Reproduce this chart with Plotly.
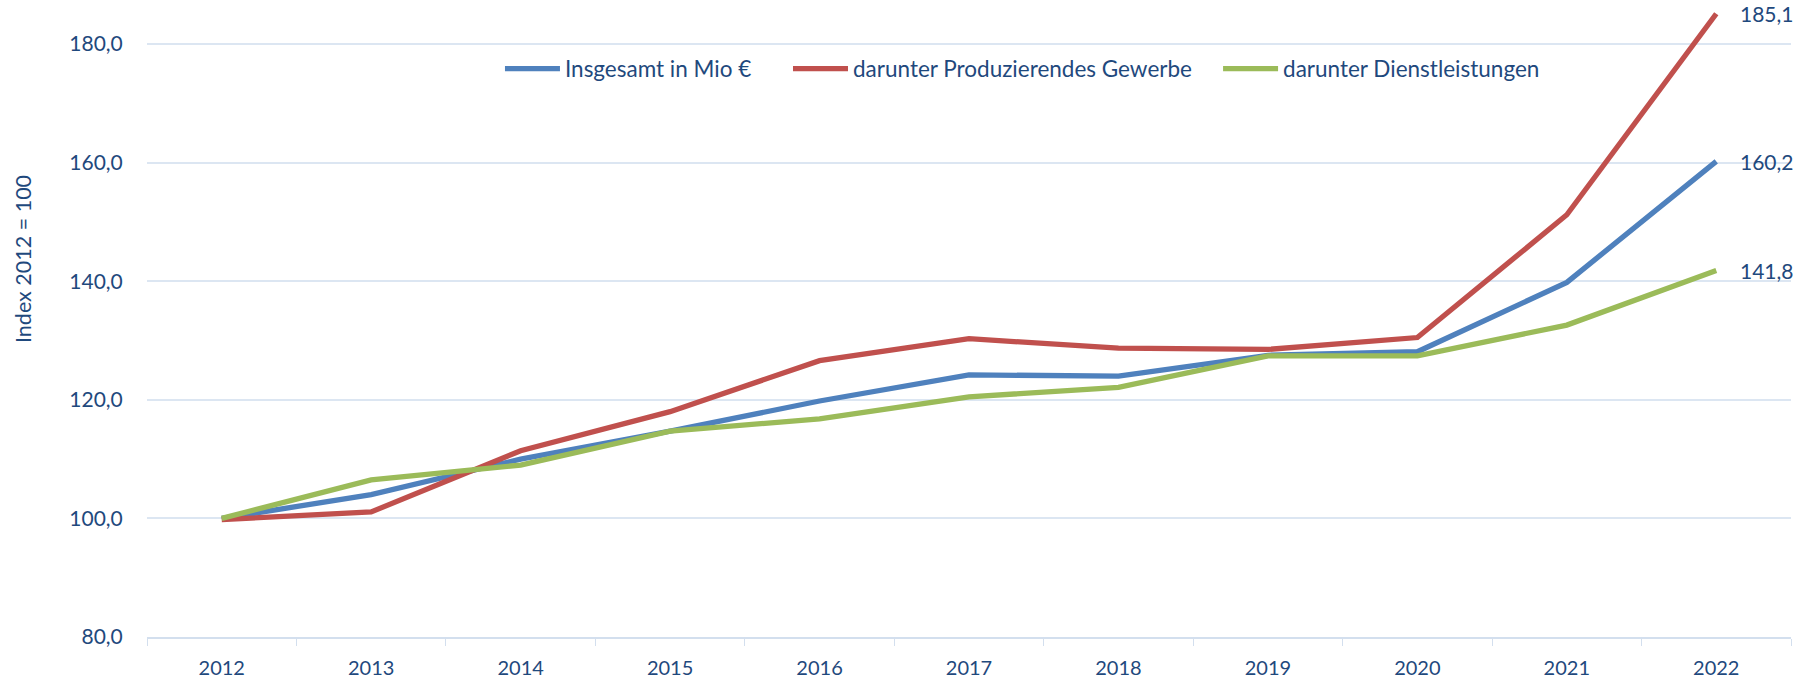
import plotly.graph_objects as go

years = ["2012", "2013", "2014", "2015", "2016", "2017", "2018", "2019", "2020", "2021", "2022"]
insgesamt = [100.0, 104.0, 110.0, 114.7, 119.8, 124.2, 124.0, 127.5, 128.1, 139.8, 160.2]
produzierend = [99.8, 101.1, 111.4, 118.0, 126.6, 130.3, 128.7, 128.5, 130.5, 151.2, 185.1]
dienstleistungen = [100.0, 106.5, 109.0, 114.7, 116.8, 120.5, 122.1, 127.4, 127.4, 132.6, 141.8]
series_names = ["Insgesamt in Mio €", "darunter Produzierendes Gewerbe", "darunter Dienstleistungen"]
colors = ["#4F81BD", "#C0504D", "#9BBB59"]
y_ticks = [80, 100, 120, 140, 160, 180]
y_tick_labels = ["80,0", "100,0", "120,0", "140,0", "160,0", "180,0"]

FONT = "Lato, 'Open Sans', sans-serif"
TXT = "#1F497D"

legend_ids = ["legend", "legend2", "legend3"]
legend_x = [0.2147, 0.3899, 0.6515]

fig = go.Figure()
for name, vals, c, lg in zip(series_names, [insgesamt, produzierend, dienstleistungen], colors, legend_ids):
    fig.add_trace(go.Scatter(x=years, y=vals, mode="lines", name=name, legend=lg,
                             line=dict(color=c, width=5.3), hoverinfo="skip"))

last_idx = len(years) - 1
for vals in [produzierend, insgesamt, dienstleistungen]:
    fig.add_annotation(x=last_idx, y=vals[-1], text=f"{vals[-1]:.1f}".replace(".", ","),
                       xanchor="left", yanchor="middle", xshift=22, showarrow=False,
                       font=dict(family=FONT, size=21, color=TXT))

fig.add_annotation(text="Index 2012 = 100", xref="paper", yref="paper",
                   x=-0.0754, y=0.601, textangle=-90, showarrow=False,
                   xanchor="center", yanchor="middle",
                   font=dict(family=FONT, size=21.5, color=TXT))

legend_common = dict(orientation="h", y=0.903, xanchor="left", yanchor="middle",
                     font=dict(family=FONT, size=22.5, color=TXT),
                     bgcolor="rgba(0,0,0,0)", itemwidth=55)

fig.update_layout(
    width=1814, height=681,
    margin=dict(l=147, r=23, t=8, b=43.5, autoexpand=False),
    paper_bgcolor="white", plot_bgcolor="white",
    font=dict(family=FONT, size=21, color=TXT),
    showlegend=True,
    legend=dict(x=legend_x[0], **legend_common),
    legend2=dict(x=legend_x[1], **legend_common),
    legend3=dict(x=legend_x[2], **legend_common),
    xaxis=dict(type="category", tickson="boundaries", ticks="outside", ticklen=7,
               tickcolor="#D3DFEE", showline=True, linecolor="#D3DFEE", linewidth=2,
               showgrid=False, tickfont=dict(family=FONT, size=20, color=TXT),
               ticklabelstandoff=12, automargin=False,
               range=[-0.5, 10.5]),
    yaxis=dict(range=[80, 186.07], tickvals=y_ticks, ticktext=y_tick_labels,
               showgrid=True, gridcolor="#DCE6F2", gridwidth=1.5, zeroline=False,
               showline=False, ticks="outside", ticklen=19, tickcolor="rgba(0,0,0,0)",
               automargin=False,
               tickfont=dict(family=FONT, size=21, color=TXT)),
)

fig.write_html("out.html", config={"displayModeBar": False},
               post_script="document.body.style.margin='0';document.body.style.overflow='hidden';")
